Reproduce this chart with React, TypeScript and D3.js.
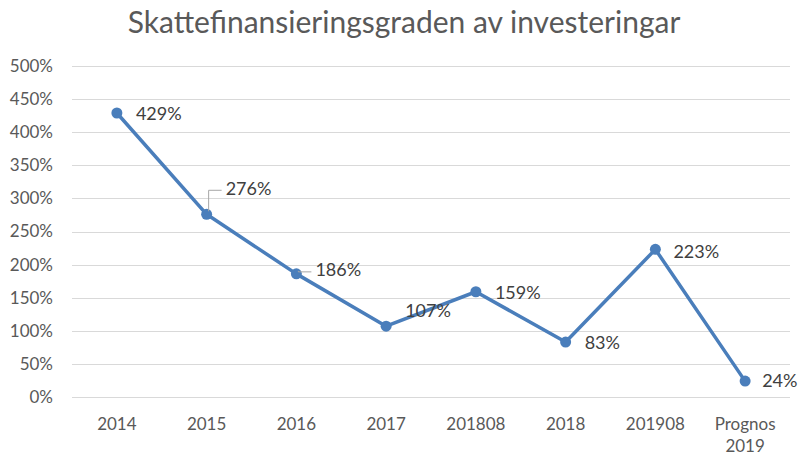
import { useEffect, useRef } from "react";
import * as d3 from "d3";

const categories = ["2014", "2015", "2016", "2017", "201808", "2018", "201908", "Prognos\n2019"];
const values = [4.29, 2.76, 1.86, 1.07, 1.59, 0.83, 2.23, 0.24];
const yTicks = [0, 0.5, 1, 1.5, 2, 2.5, 3, 3.5, 4, 4.5, 5];
// label placement relative to the point: [dx, dy]
const labelOffsets: [number, number][] = [
  [19, 1],
  [19, -26],
  [19, -4],
  [19, -15],
  [19, 1],
  [19, 1],
  [18, 2],
  [17, 0],
];
const leaderLines = [false, true, true, false, false, false, false, false];

const title = "Skattefinansieringsgraden av investeringar";
const font = "Lato, 'Open Sans', sans-serif";
const lineColor = "#4a7ebb";

export default function App() {
  const ref = useRef<SVGSVGElement | null>(null);

  useEffect(() => {
    const width = 798;
    const height = 457;
    const margin = { top: 66, right: 8, bottom: 60, left: 72 };

    const svg = d3.select(ref.current);
    svg.selectAll("*").remove();

    svg.append("rect").attr("width", width).attr("height", height).attr("fill", "#fff");

    const x = d3
      .scaleBand()
      .domain(categories)
      .range([margin.left, width - margin.right]);

    const y = d3
      .scaleLinear()
      .domain([0, 5])
      .range([height - margin.bottom, margin.top]);

    svg
      .append("text")
      .attr("x", 404)
      .attr("y", 33)
      .attr("text-anchor", "middle")
      .attr("font-family", font)
      .attr("font-size", 30)
      .attr("fill", "#595959")
      .text(title);

    // gridlines
    svg
      .append("g")
      .selectAll("line")
      .data(yTicks)
      .join("line")
      .attr("x1", margin.left)
      .attr("x2", width - margin.right)
      .attr("y1", (d) => Math.round(y(d)) + 0.5)
      .attr("y2", (d) => Math.round(y(d)) + 0.5)
      .attr("stroke", "#d9d9d9")
      .attr("stroke-width", 1);

    // y tick labels
    svg
      .append("g")
      .selectAll("text")
      .data(yTicks)
      .join("text")
      .attr("x", 53)
      .attr("y", (d) => y(d))
      .attr("dy", "0.35em")
      .attr("text-anchor", "end")
      .attr("font-family", font)
      .attr("font-size", 17)
      .attr("fill", "#595959")
      .text((d) => d3.format(".0%")(d));

    // x labels
    const xl = svg
      .append("g")
      .selectAll("text")
      .data(categories)
      .join("text")
      .attr("x", (d) => x(d)! + x.bandwidth() / 2)
      .attr("y", 430)
      .attr("text-anchor", "middle")
      .attr("font-family", font)
      .attr("font-size", 17)
      .attr("fill", "#595959");
    xl.selectAll("tspan")
      .data((d) => d.split("\n"))
      .join("tspan")
      .attr("x", function () {
        return (this.parentNode as SVGTextElement).getAttribute("x");
      })
      .attr("dy", (_, i) => (i === 0 ? 0 : 22))
      .text((d) => d);

    const pts = categories.map((c, i) => [x(c)! + x.bandwidth() / 2, y(values[i])] as [number, number]);

    svg
      .append("path")
      .datum(pts)
      .attr("fill", "none")
      .attr("stroke", lineColor)
      .attr("stroke-width", 3.5)
      .attr("stroke-linejoin", "round")
      .attr("d", d3.line());

    svg
      .append("g")
      .selectAll("circle")
      .data(pts)
      .join("circle")
      .attr("cx", (d) => d[0])
      .attr("cy", (d) => d[1])
      .attr("r", 5.5)
      .attr("fill", lineColor);

    // leader lines
    pts.forEach((p, i) => {
      if (!leaderLines[i]) return;
      const [dx, dy] = labelOffsets[i];
      const lx = p[0] + dx - 4;
      const ly = p[1] + dy + 2;
      svg
        .append("path")
        .attr("fill", "none")
        .attr("stroke", "#a6a6a6")
        .attr("stroke-width", 1)
        .attr("d", `M${lx},${ly}H${p[0] + 2}V${p[1] - 3}`);
    });

    svg
      .append("g")
      .selectAll("text")
      .data(values)
      .join("text")
      .attr("x", (_, i) => pts[i][0] + labelOffsets[i][0])
      .attr("y", (_, i) => pts[i][1] + labelOffsets[i][1])
      .attr("dy", "0.35em")
      .attr("font-family", font)
      .attr("font-size", 18)
      .attr("fill", "#404040")
      .text((d) => d3.format(".0%")(d));
  }, []);

  return (
    <svg
      ref={ref}
      width={798}
      height={457}
      style={{ position: "absolute", left: 0, top: 0, display: "block" }}
    />
  );
}
